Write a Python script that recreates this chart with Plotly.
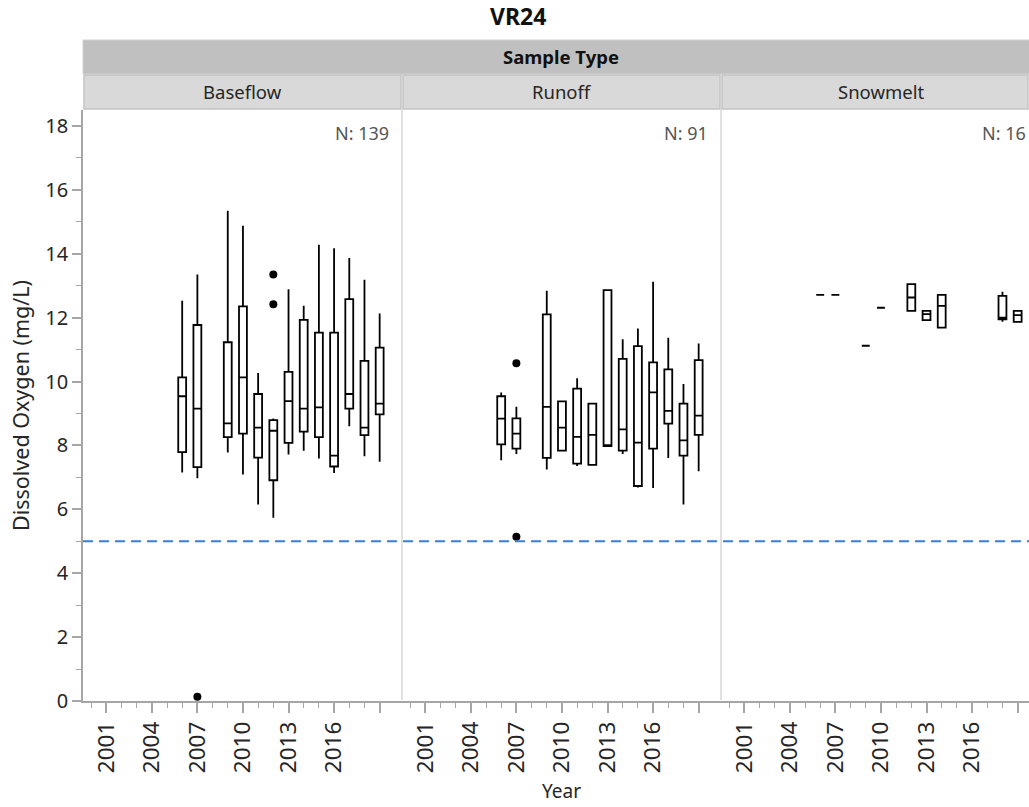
import plotly.graph_objects as go

# ---------------- data ----------------
panels = ["Baseflow", "Runoff", "Snowmelt"]
n_counts = [139, 91, 16]

years_b = [2006, 2007, 2009, 2010, 2011, 2012, 2013, 2014, 2015, 2016, 2017, 2018, 2019]
lo_b = [7.15, 6.97, 7.78, 7.09, 6.15, 5.74, 7.72, 7.83, 7.59, 7.14, 8.60, 7.66, 7.49]
q1_b = [7.79, 7.32, 8.26, 8.37, 7.62, 6.91, 8.08, 8.43, 8.26, 7.34, 9.15, 8.32, 8.97]
med_b = [9.54, 9.15, 8.69, 10.13, 8.56, 8.46, 9.39, 9.15, 9.19, 7.68, 9.61, 8.56, 9.31]
q3_b = [10.13, 11.77, 11.23, 12.35, 9.61, 8.79, 10.30, 11.93, 11.53, 11.53, 12.58, 10.65, 11.06]
hi_b = [12.53, 13.35, 15.35, 14.88, 10.27, 8.84, 12.89, 12.37, 14.28, 14.17, 13.87, 13.19, 12.13]
out_x_b = [2007, 2012, 2012]
out_y_b = [0.13, 13.35, 12.42]

years_r = [2006, 2007, 2009, 2010, 2011, 2012, 2013, 2014, 2015, 2016, 2017, 2018, 2019]
lo_r = [7.54, 7.73, 7.25, 7.84, 7.36, 7.39, 7.98, 7.73, 6.68, 6.67, 7.61, 6.15, 7.19]
q1_r = [8.03, 7.90, 7.61, 7.84, 7.43, 7.39, 7.98, 7.84, 6.73, 7.90, 8.68, 7.68, 8.33]
med_r = [8.84, 8.37, 9.21, 8.56, 8.27, 8.33, 8.01, 8.50, 8.09, 9.66, 9.08, 8.16, 8.93]
q3_r = [9.54, 8.85, 12.10, 9.38, 9.78, 9.31, 12.86, 10.71, 11.11, 10.60, 10.38, 9.31, 10.67]
hi_r = [9.66, 9.21, 12.84, 9.38, 10.10, 9.31, 12.86, 11.32, 11.66, 13.12, 11.37, 9.92, 11.19]
out_x_r = [2007, 2007]
out_y_r = [10.57, 5.14]

years_s = [2006, 2007, 2009, 2010, 2012, 2013, 2014, 2018, 2019]
lo_s = [12.71, 12.71, 11.12, 12.31, 12.21, 11.92, 11.69, 11.87, 11.87]
q1_s = [12.71, 12.71, 11.12, 12.31, 12.21, 11.92, 11.69, 11.95, 11.87]
med_s = [12.71, 12.71, 11.12, 12.31, 12.63, 12.11, 12.37, 12.00, 12.08]
q3_s = [12.71, 12.71, 11.12, 12.31, 13.05, 12.21, 12.71, 12.68, 12.21]
hi_s = [12.71, 12.71, 11.12, 12.31, 13.05, 12.21, 12.71, 12.81, 12.21]
out_x_s = []
out_y_s = []

reference_level = 5
major_years = [2001, 2004, 2007, 2010, 2013, 2016, 2019]
major_labels = ["2001", "2004", "2007", "2010", "2013", "2016", ""]
minor_years = list(range(2000, 2019))
y_ticks = list(range(0, 19, 2))
y_minor = list(range(1, 19, 2))

# ---------------- layout geometry ----------------
W, H = 1029, 807
L, R, T, B = 83, 0, 110, 106
PW = W - L - R
PH = H - T - B
PX_PER_YEAR = 15.19
X_LEFT = 1999.47
panel_px = [(83, 402), (402, 721), (721, 1029)]

def px2x(px):
    return (px - L) / PW

def px2y(py):
    return (H - B - py) / PH

FONT = "Noto Sans"
TXT = "#262626"
fig = go.Figure()

series = [
    (years_b, lo_b, q1_b, med_b, q3_b, hi_b, out_x_b, out_y_b),
    (years_r, lo_r, q1_r, med_r, q3_r, hi_r, out_x_r, out_y_r),
    (years_s, lo_s, q1_s, med_s, q3_s, hi_s, out_x_s, out_y_s),
]
for i, (yrs, lo, q1, med, q3, hi, ox, oy) in enumerate(series):
    xa = "x" if i == 0 else f"x{i+1}"
    fig.add_trace(go.Box(
        x=yrs, q1=q1, median=med, q3=q3, lowerfence=lo, upperfence=hi,
        xaxis=xa, yaxis="y", boxpoints=False, width=0.52, whiskerwidth=0,
        line=dict(color="black", width=1.8), fillcolor="white",
        showlegend=False, hoverinfo="skip"))
    if ox:
        fig.add_trace(go.Scatter(
            x=ox, y=oy, xaxis=xa, yaxis="y", mode="markers",
            marker=dict(color="black", size=8), showlegend=False, hoverinfo="skip"))

axis_common = dict(
    showgrid=False, zeroline=False, showline=True, linecolor="#a6a6a6", linewidth=1.5,
    ticks="outside", ticklen=10, tickwidth=1.5, tickcolor="#a6a6a6",
    tickmode="array", tickvals=major_years, ticktext=major_labels, tickangle=-90,
    tickfont=dict(family=FONT, size=22.5, color=TXT),
    minor=dict(tickmode="array", tickvals=minor_years, ticklen=5, tickwidth=1.2,
               tickcolor="#a6a6a6", ticks="outside"),
    anchor="y",
)
layout_axes = {}
for i, (a, b) in enumerate(panel_px):
    width_years = (b - a) / PX_PER_YEAR
    ax = dict(axis_common)
    ax["domain"] = [px2x(a), px2x(b)]
    ax["range"] = [X_LEFT, X_LEFT + width_years]
    if i == 1:
        ax["title"] = dict(text="Year", font=dict(family=FONT, size=19, color=TXT), standoff=12)
    layout_axes["xaxis" if i == 0 else f"xaxis{i+1}"] = ax

fig.update_layout(
    **layout_axes,
    yaxis=dict(
        range=[0, 18.5], showgrid=False, zeroline=False, showline=True,
        linecolor="#a6a6a6", linewidth=1.5, ticks="outside", ticklen=9, tickwidth=1.5,
        tickcolor="#a6a6a6", tickmode="array", tickvals=y_ticks,
        tickfont=dict(family=FONT, size=20, color=TXT),
        minor=dict(tickmode="array", tickvals=y_minor, ticklen=5, tickwidth=1.2,
                   tickcolor="#a6a6a6", ticks="outside"),
        title=dict(text="Dissolved Oxygen (mg/L)", font=dict(family=FONT, size=21.5, color=TXT), standoff=10),
        anchor="x",
    ),
    width=W, height=H,
    margin=dict(l=L, r=R, t=T, b=B),
    paper_bgcolor="white", plot_bgcolor="white",
    font=dict(family=FONT, size=18, color=TXT),
)

shapes = []
annotations = []
# reference line
shapes.append(dict(type="line", xref="paper", yref="y", x0=0, x1=1, y0=reference_level, y1=reference_level,
                   line=dict(color="#3b7ddd", width=2, dash="10px,6px"), layer="above"))
# panel dividers
for a, b in panel_px[1:]:
    shapes.append(dict(type="line", xref="paper", yref="paper", x0=px2x(a), x1=px2x(a),
                       y0=px2y(700), y1=px2y(110), line=dict(color="#d6d6d6", width=1.5)))
# "Sample Type" bar
shapes.append(dict(type="rect", xref="paper", yref="paper", x0=0, x1=1.02,
                   y0=px2y(74), y1=px2y(40), fillcolor="#c0c0c0", line=dict(color="#d0d0d0", width=1)))
annotations.append(dict(text="<b>Sample Type</b>", xref="paper", yref="paper",
                        x=px2x(561), y=px2y(57), xanchor="center", yanchor="middle", showarrow=False,
                        font=dict(family=FONT, size=18.5, color="#111111")))
# panel headers
for (a, b), name, n in zip(panel_px, panels, n_counts):
    shapes.append(dict(type="rect", xref="paper", yref="paper", x0=px2x(a + 1), x1=px2x(min(b, 1040) - 1),
                       y0=px2y(109), y1=px2y(75), fillcolor="#d9d9d9", line=dict(color="#c4c4c4", width=1.5)))
    centre = (a + (a + 319)) / 2
    annotations.append(dict(text=name, xref="paper", yref="paper", x=px2x(centre), y=px2y(92),
                            xanchor="center", yanchor="middle",
                            showarrow=False, font=dict(family=FONT, size=18.5, color=TXT)))
    annotations.append(dict(text=f"N: {n}", xref="paper", yref="paper", x=px2x(min(a + 308, 1028)),
                            y=px2y(133), xanchor="right", yanchor="middle", showarrow=False,
                            font=dict(family=FONT, size=18, color="#555555")))
# title
annotations.append(dict(text="<b>VR24</b>", xref="paper", yref="paper", x=px2x(518), y=px2y(16),
                        xanchor="center", yanchor="middle",
                        showarrow=False, font=dict(family=FONT, size=23, color="#111111")))

fig.update_layout(shapes=shapes, annotations=annotations)
fig.write_html("out.html", config={"displayModeBar": False},
               post_script="document.body.style.margin='0';")
